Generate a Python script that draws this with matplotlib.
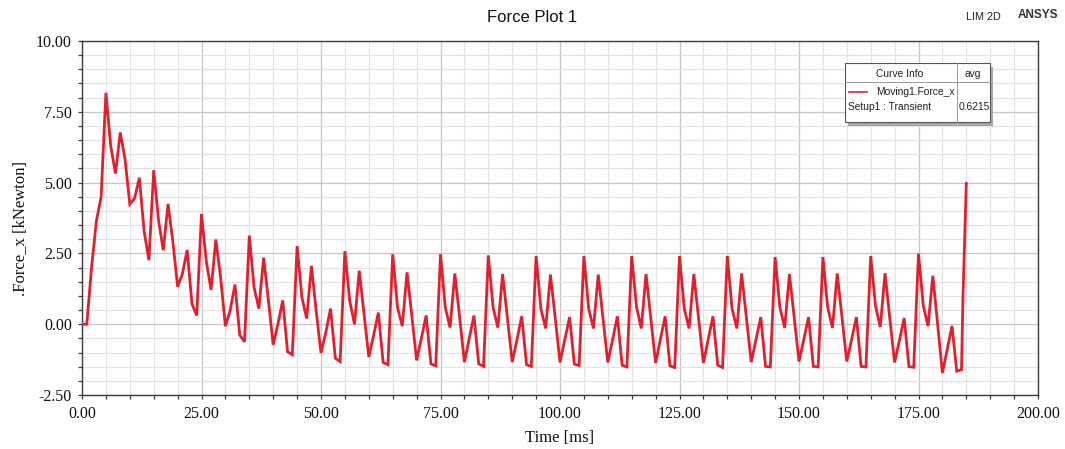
import numpy as np
import matplotlib
matplotlib.use("Agg")
import matplotlib.pyplot as plt
from matplotlib.patches import Rectangle
from matplotlib.lines import Line2D
from matplotlib.ticker import MultipleLocator, FormatStrFormatter

# ---- data -------------------------------------------------------------
time_ms = list(range(0, 185)) + [184.3, 185.0]

force_kn = [
    0.00, 0.00, 2.00, 3.63, 4.50,
    8.17, 6.31, 5.32, 6.77, 5.84, 4.24, 4.44, 5.17, 3.28, 2.26,
    5.44, 3.69, 2.61, 4.25, 2.93, 1.33, 1.77, 2.62, 0.72, 0.31,
    3.89, 2.23, 1.21, 2.99, 1.65, -0.07, 0.49, 1.40, -0.38, -0.62,
    3.13, 1.30, 0.55, 2.35, 0.84, -0.73, 0.02, 0.84, -0.97, -1.08,
    2.76, 0.95, 0.20, 2.06, 0.45, -1.02, -0.30, 0.55, -1.20, -1.32,
    2.58, 0.84, 0.00, 1.89, 0.35, -1.16, -0.40, 0.41, -1.35, -1.43,
    2.47, 0.60, -0.07, 1.83, 0.30, -1.28, -0.50, 0.31, -1.40, -1.47,
    2.47, 0.60, -0.12, 1.79, 0.25, -1.34, -0.52, 0.31, -1.40, -1.49,
    2.43, 0.60, -0.12, 1.77, 0.22, -1.34, -0.55, 0.28, -1.43, -1.49,
    2.41, 0.55, -0.15, 1.75, 0.22, -1.35, -0.55, 0.25, -1.41, -1.46,
    2.41, 0.55, -0.15, 1.75, 0.20, -1.35, -0.55, 0.28, -1.45, -1.51,
    2.41, 0.62, -0.15, 1.77, 0.20, -1.37, -0.55, 0.28, -1.47, -1.53,
    2.41, 0.55, -0.15, 1.77, 0.20, -1.37, -0.55, 0.28, -1.45, -1.53,
    2.41, 0.55, -0.15, 1.79, 0.22, -1.34, -0.55, 0.25, -1.49, -1.51,
    2.37, 0.60, -0.13, 1.77, 0.22, -1.32, -0.55, 0.25, -1.49, -1.51,
    2.37, 0.60, -0.13, 1.79, 0.22, -1.32, -0.55, 0.25, -1.49, -1.51,
    2.41, 0.65, -0.10, 1.80, 0.20, -1.35, -0.58, 0.22, -1.50, -1.52,
    2.49, 0.65, -0.07, 1.71, 0.00, -1.72, -0.90, -0.06, -1.66, -1.61,
    0.95, 4.97,
]

curve_name = "Moving1.Force_x"
setup_name = "Setup1 : Transient"
avg_value = "0.6215"

# ---- figure -----------------------------------------------------------
W, H = 1065, 449
fig = plt.figure(figsize=(W / 100, H / 100), dpi=100)
fig.patch.set_facecolor("white")


def fx(px):
    return px / W


def fy(py):
    return 1 - py / H


ax_l, ax_r, ax_t, ax_b = 82, 1038, 41, 395
ax = fig.add_axes([fx(ax_l), fy(ax_b), fx(ax_r - ax_l), (ax_b - ax_t) / H])

line_color = "#e0202c"
ax.plot(time_ms, force_kn, color=line_color, lw=2.0, solid_joinstyle="miter",
        zorder=3)

ax.set_xlim(0, 200)
ax.set_ylim(-2.5, 10.0)
ax.xaxis.set_major_locator(MultipleLocator(25))
ax.xaxis.set_minor_locator(MultipleLocator(5))
ax.yaxis.set_major_locator(MultipleLocator(2.5))
ax.yaxis.set_minor_locator(MultipleLocator(0.5))
ax.xaxis.set_major_formatter(FormatStrFormatter("%.2f"))
ax.yaxis.set_major_formatter(FormatStrFormatter("%.2f"))

ax.grid(which="major", color="#c6c6c6", lw=0.9, zorder=0)
ax.grid(which="minor", color="#e2e2e2", lw=0.8, zorder=0)
ax.set_axisbelow(True)

spine_c = "#3c3c3c"
for s in ax.spines.values():
    s.set_color(spine_c)
    s.set_linewidth(1.0)

serif = ["Liberation Serif", "DejaVu Serif"]
sans = ["Liberation Sans", "DejaVu Sans"]

ax.tick_params(which="both", direction="out", length=3.2, width=0.9,
               color=spine_c, top=False, right=False)
ax.tick_params(axis="y", which="major", labelsize=11.5, pad=4,
               labelcolor="#111111")
ax.tick_params(axis="x", which="major", labelsize=11.5, pad=5,
               labelcolor="#111111")
for lab in ax.get_xticklabels() + ax.get_yticklabels():
    lab.set_family(serif)

ax.set_xlabel("Time [ms]", family=serif, fontsize=12, color="#111111")
ax.set_ylabel(".Force_x [kNewton]", family=serif, fontsize=12,
              color="#111111")
ax.xaxis.label.set_va("center")
ax.yaxis.label.set_va("center")
ax.xaxis.set_label_coords(0.5, -0.122)
ax.yaxis.set_label_coords(-0.064, 0.47)

# ---- titles -----------------------------------------------------------
fig.text(fx(532), fy(18), "Force Plot 1", family=sans, fontsize=12,
         ha="center", va="center", color="#111111")
fig.text(fx(983), fy(17), "LIM 2D", family=sans, fontsize=7.8,
         ha="center", va="center", color="#222222")
fig.text(fx(1038), fy(15), "ANSYS", family=sans, fontsize=8.5,
         weight="bold", ha="center", va="center", color="#333333")

# ---- curve info box ---------------------------------------------------
bx0, bx1, by0, by1 = 845, 990, 63, 122
col_x, hdr_y = 957, 82
fig.add_artist(Rectangle((fx(bx0 + 3), fy(by1 + 4)), fx(bx1 - bx0),
                         (by1 - by0) / H, transform=fig.transFigure,
                         facecolor="#a8a8a8", edgecolor="none", zorder=5))
fig.add_artist(Rectangle((fx(bx0), fy(by1)), fx(bx1 - bx0),
                         (by1 - by0) / H, transform=fig.transFigure,
                         facecolor="white", edgecolor="#555555", lw=0.8,
                         zorder=6))
fig.add_artist(Line2D([fx(bx0), fx(bx1)], [fy(hdr_y), fy(hdr_y)],
                      transform=fig.transFigure, color="#999999", lw=0.7,
                      zorder=7))
fig.add_artist(Line2D([fx(col_x), fx(col_x)], [fy(by0), fy(by1)],
                      transform=fig.transFigure, color="#999999", lw=0.7,
                      zorder=7))
fs_box = 7.4
fig.text(fx(900), fy(74), "Curve Info", family=sans, fontsize=fs_box,
         ha="center", va="center", color="#222222", zorder=8)
fig.text(fx(973), fy(74), "avg", family=sans, fontsize=fs_box,
         ha="center", va="center", color="#222222", zorder=8)
fig.add_artist(Line2D([fx(849), fx(867)], [fy(92), fy(92)],
                      transform=fig.transFigure, color=line_color, lw=1.2,
                      zorder=8))
fig.text(fx(876), fy(92), curve_name, family=sans, fontsize=fs_box,
         ha="left", va="center", color="#222222", zorder=8)
fig.text(fx(848), fy(107), setup_name, family=sans, fontsize=fs_box,
         ha="left", va="center", color="#222222", zorder=8)
fig.text(fx(974), fy(107), avg_value, family=sans, fontsize=fs_box,
         ha="center", va="center", color="#222222", zorder=8)

fig.savefig("out.png", dpi=100, facecolor="white")
